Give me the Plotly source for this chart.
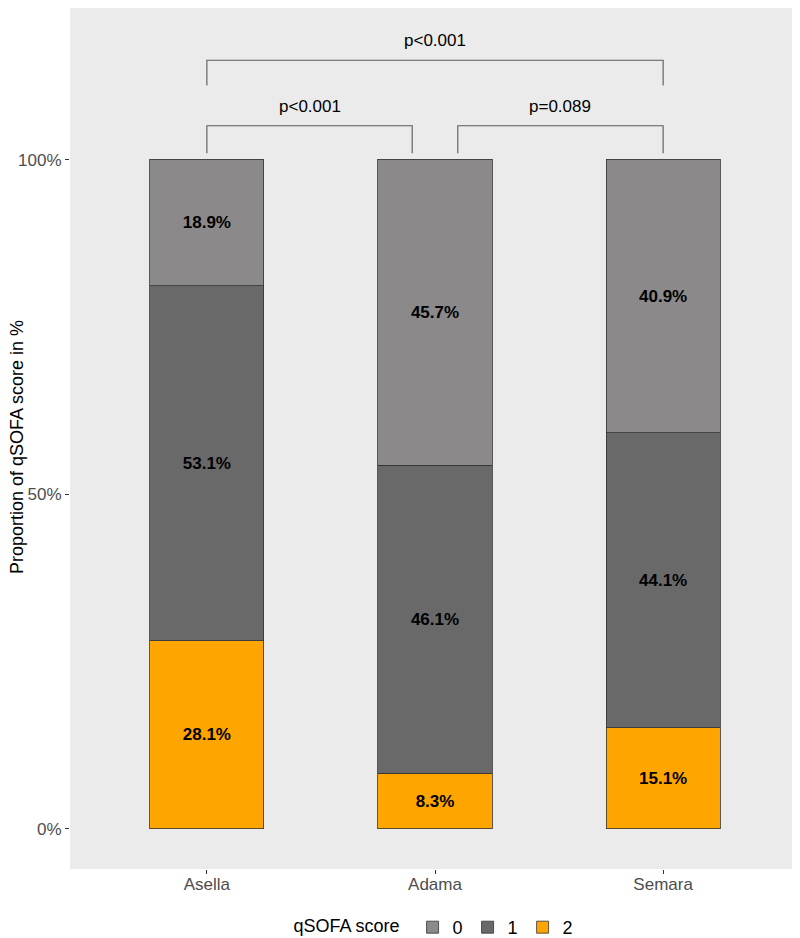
import plotly.graph_objects as go

# data
sites = ['Asella', 'Adama', 'Semara']
site_pos = [1, 2, 3]
score_0 = [18.9, 45.7, 40.9]
score_1 = [53.1, 46.1, 44.1]
score_2 = [28.1, 8.3, 15.1]

# pairwise comparisons: (x start, x end, bracket top, leg bottom, label)
cmp_x0 = [1.0, 2.1, 1.0]
cmp_x1 = [1.9, 3.0, 3.0]
cmp_top = [105.1, 105.1, 114.9]
cmp_leg = [101.0, 101.0, 111.1]
cmp_label = ['p<0.001', 'p=0.089', 'p<0.001']

FONT = 'Liberation Sans, Arial, sans-serif'

fig = go.Figure()

# bottom -> top stacking
series = [
    ('2', score_2, '#FFA500', 3),
    ('1', score_1, '#696969', 2),
    ('0', score_0, '#8B8989', 1),
]
for name, vals, col, rank in series:
    fig.add_trace(go.Bar(
        x=site_pos, y=vals, name=name, width=0.5,
        marker=dict(color=col, line=dict(color='#333333', width=0.8)),
        texttemplate='<b>%{y:.1f}%</b>', textposition='inside',
        insidetextanchor='middle', textangle=0,
        textfont=dict(family=FONT, size=17, color='black'),
        legendrank=rank, hoverinfo='skip',
    ))

# significance brackets
for x0, x1, top, leg, lab in zip(cmp_x0, cmp_x1, cmp_top, cmp_leg, cmp_label):
    fig.add_trace(go.Scatter(
        x=[x0, x0, x1, x1], y=[leg, top, top, leg], mode='lines',
        line=dict(color='#595959', width=1.1), showlegend=False, hoverinfo='skip',
    ))
    fig.add_annotation(x=(x0 + x1) / 2, y=top, text=lab, showarrow=False,
                       yanchor='bottom', yshift=8,
                       font=dict(family=FONT, size=17, color='black'))

fig.add_annotation(xref='paper', yref='paper', x=-0.0726, y=0.49,
                   text='Proportion of qSOFA score in %', textangle=-90,
                   showarrow=False, xanchor='center', yanchor='middle',
                   font=dict(family=FONT, size=18, color='black'))

# page body adds an 8px offset, so the figure is 8px smaller each way
fig.update_layout(
    width=792, height=930,
    barmode='stack',
    paper_bgcolor='white', plot_bgcolor='#EBEBEB',
    margin=dict(l=62, r=0, t=0, b=69, autoexpand=False),
    font=dict(family=FONT, size=17, color='#4D4D4D'),
    legend=dict(orientation='h', x=0.5, xanchor='center', y=-0.0894, yanchor='bottom',
                title=dict(text='qSOFA score ', side='left', font=dict(size=18, color='black')),
                font=dict(size=18, color='black'), itemwidth=30, traceorder='normal',
                bgcolor='rgba(0,0,0,0)'),
    xaxis=dict(range=[0.4, 3.6], tickvals=site_pos, ticktext=sites, showgrid=False,
               zeroline=False, ticks='outside', ticklen=4, tickcolor='#333333',
               ticklabelstandoff=-4,
               automargin=False, tickfont=dict(size=17, color='#4D4D4D')),
    yaxis=dict(range=[-5.98, 122.7], tickvals=[0, 50, 100], ticktext=['0%', '50%', '100%'],
               showgrid=False, zeroline=False, ticks='outside', ticklen=4,
               automargin=False, tickcolor='#333333',
               tickfont=dict(size=17, color='#4D4D4D')),
)

fig.write_html('out.html')
